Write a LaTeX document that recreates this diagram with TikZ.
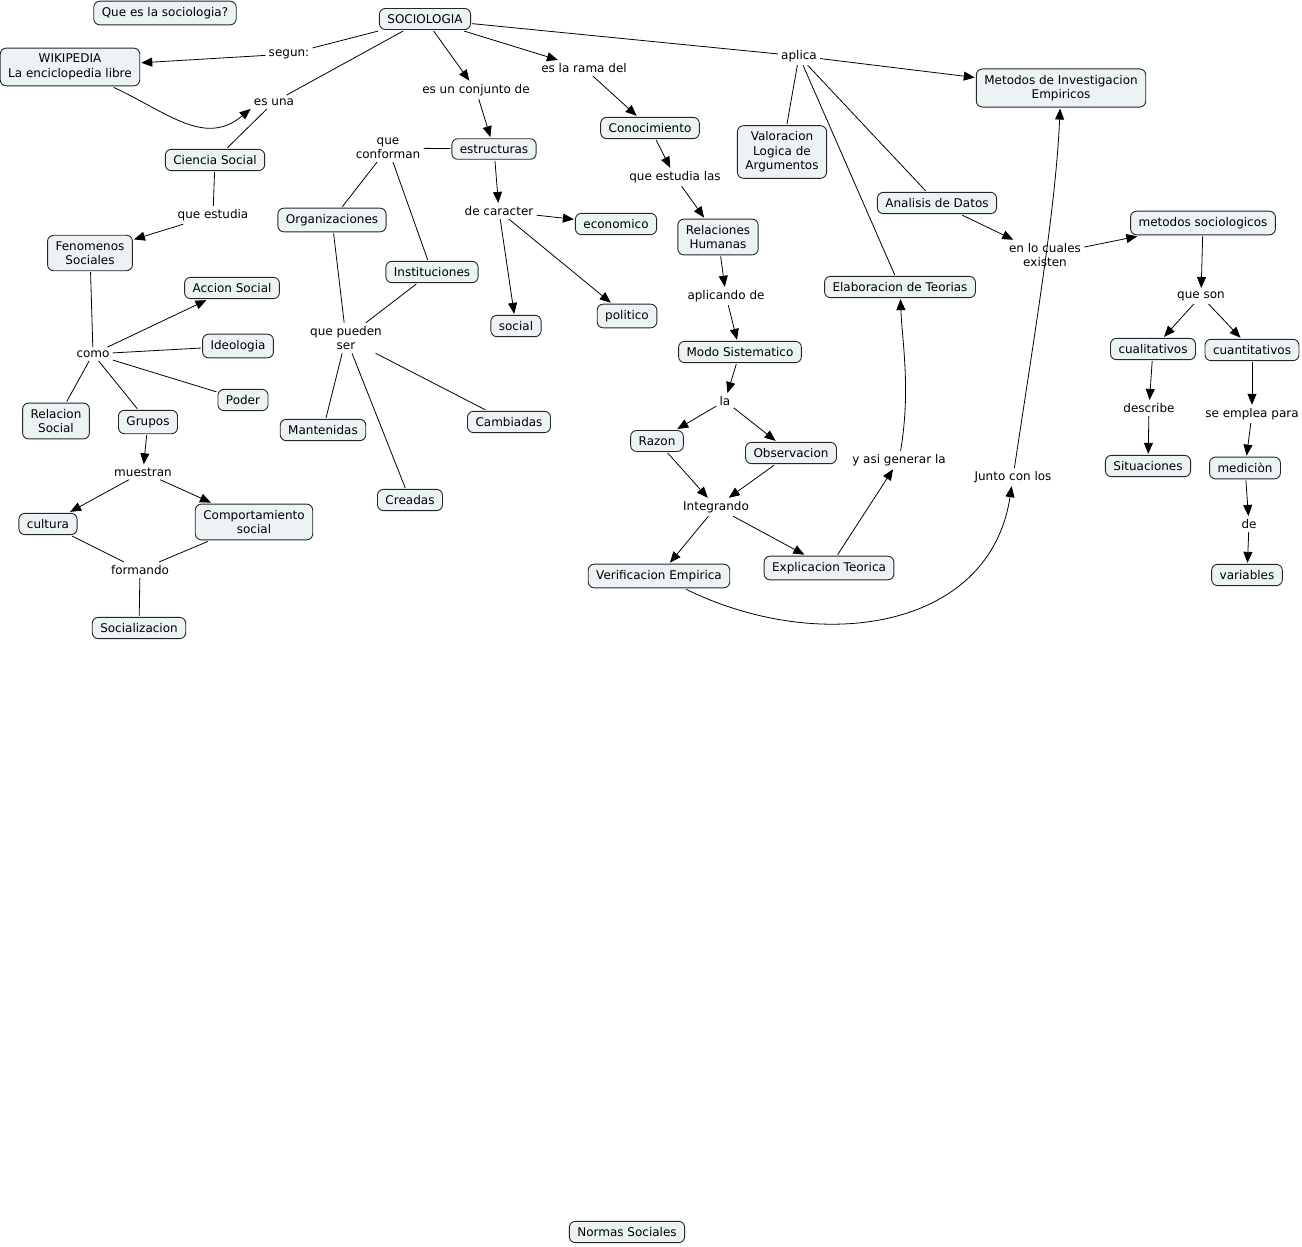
\documentclass[tikz,border=0pt]{standalone}
\usepackage{fontspec}
\setmainfont{DejaVu Sans}
\usepackage{xcolor}
\usepackage{tikz}
\usetikzlibrary{arrows.meta}
\definecolor{cajafondo}{RGB}{236,243,245}
\tikzset{concepto/.style={draw=black!85,fill=cajafondo,rounded corners=6pt,line width=0.9pt,align=center,inner xsep=8pt,inner ysep=6pt,outer sep=1.5pt,font=\fontsize{12}{14.5}\selectfont},
enlace/.style={align=center,inner sep=3pt,font=\fontsize{12}{14.5}\selectfont}}

\begin{document}
\begin{tikzpicture}[x=1pt,y=-1pt,>={Triangle[length=11pt,width=9pt]},line width=0.8pt]
        \useasboundingbox[fill=white] (0,0) rectangle (1302,1247);
        \node[concepto] (preg) at (165,13) {Que es la sociologia?};
        \node[concepto] (soc) at (425,19) {SOCIOLOGIA};
        \node[concepto] (wiki) at (70,67) {WIKIPEDIA\\La enciclopedia libre};
        \node[concepto] (cs) at (215,160) {Ciencia Social};
        \node[concepto] (fen) at (90,253) {Fenomenos\\Sociales};
        \node[concepto] (acc) at (232,288) {Accion Social};
        \node[concepto] (ideo) at (238,346) {Ideologia};
        \node[concepto] (poder) at (243,400) {Poder};
        \node[concepto] (rel) at (56,421) {Relacion\\Social};
        \node[concepto] (grupos) at (148,422) {Grupos};
        \node[concepto] (cultura) at (48,524) {cultura};
        \node[concepto] (comp) at (254,522) {Comportamiento\\social};
        \node[concepto] (socz) at (139,628) {Socializacion};
        \node[concepto] (estr) at (494,149) {estructuras};
        \node[concepto] (org) at (332,220) {Organizaciones};
        \node[concepto] (inst) at (432,272) {Instituciones};
        \node[concepto] (mant) at (323,430) {Mantenidas};
        \node[concepto] (creadas) at (410,500) {Creadas};
        \node[concepto] (camb) at (509,422) {Cambiadas};
        \node[concepto] (econ) at (616,224) {economico};
        \node[concepto] (social) at (516,326) {social};
        \node[concepto] (polit) at (627,316) {politico};
        \node[concepto] (conoc) at (650,128) {Conocimiento};
        \node[concepto] (val) at (782,152) {Valoracion\\Logica de\\Argumentos};
        \node[concepto] (metinv) at (1061,88) {Metodos de Investigacion\\Empiricos};
        \node[concepto] (relh) at (718,237) {Relaciones\\Humanas};
        \node[concepto] (modo) at (740,352) {Modo Sistematico};
        \node[concepto] (razon) at (657,441) {Razon};
        \node[concepto] (obs) at (791,453) {Observacion};
        \node[concepto] (verif) at (659,576) {Verificacion Empirica};
        \node[concepto] (explic) at (829,568) {Explicacion Teorica};
        \node[concepto] (elab) at (900,287) {Elaboracion de Teorias};
        \node[concepto] (anal) at (937,203) {Analisis de Datos};
        \node[concepto] (metsoc) at (1203,223) {metodos sociologicos};
        \node[concepto] (cual) at (1153,349) {cualitativos};
        \node[concepto] (cuan) at (1252,350) {cuantitativos};
        \node[concepto] (sit) at (1148,466) {Situaciones};
        \node[concepto] (medic) at (1245,468) {mediciòn};
        \node[concepto] (var) at (1247,575) {variables};
        \node[concepto] (normas) at (627,1232) {Normas Sociales};

        \node[enlace] (segun) at (289,54) {segun:};
        \node[enlace] (esuna) at (274,102) {es una};
        \node[enlace] (esconj) at (476,90) {es un conjunto de};
        \node[enlace] (esrama) at (584,68) {es la rama del};
        \node[enlace] (aplica) at (799,56) {aplica};
        \node[enlace] (queest) at (213,215) {que estudia};
        \node[enlace] (queconf) at (388,148) {que\\conforman};
        \node[enlace] (decar) at (499,211) {de caracter};
        \node[enlace] (queestlas) at (675,177) {que estudia las};
        \node[enlace] (aplic) at (726,296) {aplicando de};
        \node[enlace] (la) at (725,401) {la};
        \node[enlace] (integ) at (716,507) {Integrando};
        \node[enlace] (yasi) at (899,460) {y asi generar la};
        \node[enlace] (junto) at (1013,477) {Junto con los};
        \node[enlace] (encuales) at (1045,255) {en lo cuales\\existen};
        \node[enlace] (queson) at (1201,296) {que son};
        \node[enlace] (describe) at (1149,408) {describe};
        \node[enlace] (seemp) at (1252,414) {se emplea para};
        \node[enlace] (de) at (1249,524) {de};
        \node[enlace] (como) at (93,354) {como};
        \node[enlace] (muestran) at (143,472) {muestran};
        \node[enlace] (formando) at (140,570) {formando};
        \node[enlace] (quepued) at (346,338) {que pueden\\ser};

        \draw [] (soc) to [] (segun);
        \draw [->] (segun) to [] (wiki);
        \draw [] (soc) to [] (esuna);
        \draw [] (cs) to [] (esuna);
        \draw [->] (wiki) to [out=-25,in=-140,looseness=1.1] (esuna.south west);
        \draw [->] (soc) to [] (esconj);
        \draw [->] (esconj) to [] (estr);
        \draw [->] (soc) to [] (esrama);
        \draw [->] (esrama) to [] (conoc);
        \draw [] (soc) to [] (aplica);
        \draw [->] (aplica) to [] (metinv);
        \draw [] (aplica) to [] (val);
        \draw [] (aplica) to [] (anal);
        \draw [] (aplica) to [] (elab);
        \draw [] (cs) to [] (queest);
        \draw [->] (queest) to [] (fen);
        \draw [] (estr) to [] (queconf);
        \draw [] (queconf) to [] (org);
        \draw [] (queconf) to [] (inst);
        \draw [] (org) to [] (quepued);
        \draw [] (inst) to [] (quepued);
        \draw [] (quepued) to [] (mant);
        \draw [] (quepued) to [] (creadas);
        \draw [] (quepued) to [] (camb);
        \draw [->] (estr) to [] (decar);
        \draw [->] (decar) to [] (econ);
        \draw [->] (decar) to [] (social);
        \draw [->] (decar) to [] (polit);
        \draw [->] (conoc) to [] (queestlas);
        \draw [->] (queestlas) to [] (relh);
        \draw [->] (relh) to [] (aplic);
        \draw [->] (aplic) to [] (modo);
        \draw [->] (modo) to [] (la);
        \draw [->] (la) to [] (razon);
        \draw [->] (la) to [] (obs);
        \draw [->] (razon) to [] (integ);
        \draw [->] (obs) to [] (integ);
        \draw [->] (integ) to [] (verif);
        \draw [->] (integ) to [] (explic);
        \draw [->] (explic) to [] (yasi);
        \draw [->] (yasi) .. controls (911,390) and (902,340) .. (elab);
        \draw [->] (verif) .. controls (820,655) and (990,630) .. (junto);
        \draw [->] (junto) .. controls (1040,300) and (1056,200) .. (metinv);
        \draw [->] (anal) to [] (encuales);
        \draw [->] (encuales) to [] (metsoc);
        \draw [->] (metsoc) to [] (queson);
        \draw [->] (queson) to [] (cual);
        \draw [->] (queson) to [] (cuan);
        \draw [->] (cual) to [] (describe);
        \draw [->] (describe) to [] (sit);
        \draw [->] (cuan) to [] (seemp);
        \draw [->] (seemp) to [] (medic);
        \draw [->] (medic) to [] (de);
        \draw [->] (de) to [] (var);
        \draw [] (fen) to [] (como);
        \draw [->] (como) to [] (acc);
        \draw [] (como) to [] (ideo);
        \draw [] (como) to [] (poder);
        \draw [] (como) to [] (rel);
        \draw [] (como) to [] (grupos);
        \draw [->] (grupos) to [] (muestran);
        \draw [->] (muestran) to [] (cultura);
        \draw [->] (muestran) to [] (comp);
        \draw [] (cultura) to [] (formando);
        \draw [] (comp) to [] (formando);
        \draw [] (formando) to [] (socz);
    \end{tikzpicture}
\end{document}
